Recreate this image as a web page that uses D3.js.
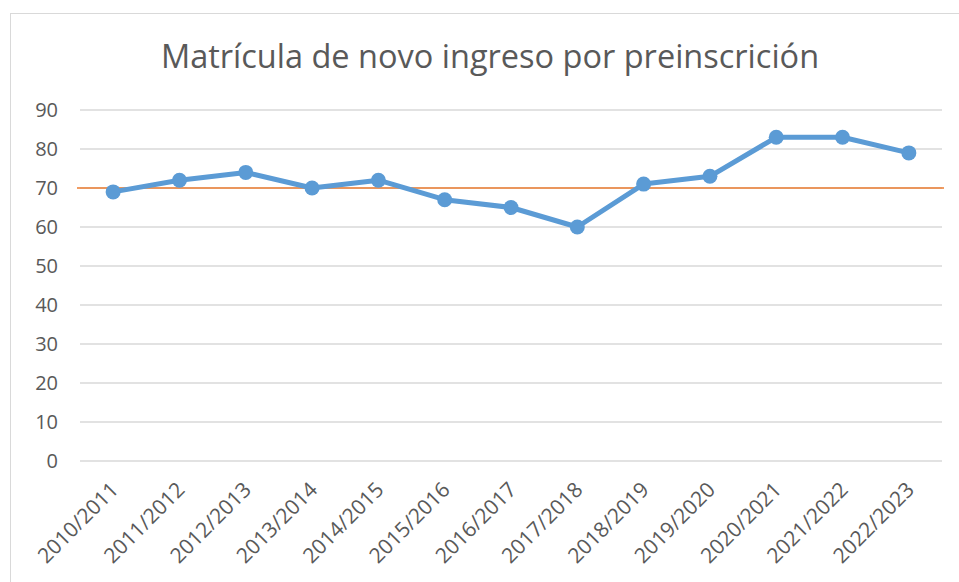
<!DOCTYPE html>
<html>
<head>
  <meta charset="utf-8">
  <title>Matrícula de novo ingreso</title>
  <script src="https://d3js.org/d3.v7.min.js"></script>
  <style>
    body { margin: 0; background: white; }
    text { font-family: "Open Sans", sans-serif; fill: #595959; }
  </style>
</head>
<body>
<script>
  // Data
  var cursos = ["2010/2011", "2011/2012", "2012/2013", "2013/2014", "2014/2015", "2015/2016",
                "2016/2017", "2017/2018", "2018/2019", "2019/2020", "2020/2021", "2021/2022", "2022/2023"];
  var matricula = [69, 72, 74, 70, 72, 67, 65, 60, 71, 73, 83, 83, 79];
  var referencia = 70;
  var yTicks = [0, 10, 20, 30, 40, 50, 60, 70, 80, 90];

  var width = 959, height = 582;
  var plot = {left: 80, right: 942, top: 110, bottom: 461};

  var svg = d3.select("body").append("svg")
      .attr("width", width)
      .attr("height", height);

  // chart border (cropped at right/bottom)
  svg.append("rect")
      .attr("x", 10.5).attr("y", 13.5)
      .attr("width", 970).attr("height", 600)
      .attr("fill", "none")
      .attr("stroke", "#d9d9d9");

  svg.append("text")
      .attr("x", 490).attr("y", 68)
      .attr("text-anchor", "middle")
      .style("font-size", "32.5px")
      .text("Matrícula de novo ingreso por preinscrición");

  var x = d3.scalePoint().domain(cursos).range([plot.left, plot.right]).padding(0.5);
  var y = d3.scaleLinear().domain([0, 90]).range([plot.bottom, plot.top]);

  // grid
  svg.append("g").selectAll("line")
      .data(yTicks).enter().append("line")
      .attr("x1", plot.left).attr("x2", plot.right)
      .attr("y1", function(d) { return y(d); })
      .attr("y2", function(d) { return y(d); })
      .attr("stroke", "#d9d9d9")
      .attr("stroke-width", 1.5);

  // y axis labels
  var yAxis = svg.append("g")
      .attr("transform", "translate(" + (plot.left - 22) + ",0)")
      .call(d3.axisLeft(y).tickValues(yTicks).tickSize(0).tickPadding(0));
  yAxis.select(".domain").remove();
  yAxis.selectAll("text")
      .style("font-size", "20px")
      .attr("fill", "#595959");

  // x axis labels
  var xAxis = svg.append("g")
      .attr("transform", "translate(0," + plot.bottom + ")")
      .call(d3.axisBottom(x).tickSize(0));
  xAxis.select(".domain").remove();
  xAxis.selectAll("text")
      .style("font-size", "21px")
      .attr("fill", "#595959")
      .style("text-anchor", "end")
      .attr("dy", "0")
      .attr("transform", "translate(4,28) rotate(-45)");

  // reference line
  svg.append("line")
      .attr("x1", plot.left - 3).attr("x2", plot.right + 2)
      .attr("y1", y(referencia)).attr("y2", y(referencia))
      .attr("stroke", "#ED7D31")
      .attr("stroke-width", 1.5);

  // series
  var line = d3.line()
      .x(function(d, i) { return x(cursos[i]); })
      .y(function(d) { return y(d); });

  svg.append("path")
      .datum(matricula)
      .attr("d", line)
      .attr("fill", "none")
      .attr("stroke", "#5B9BD5")
      .attr("stroke-width", 5)
      .attr("stroke-linejoin", "round");

  svg.append("g").selectAll("circle")
      .data(matricula).enter().append("circle")
      .attr("cx", function(d, i) { return x(cursos[i]); })
      .attr("cy", function(d) { return y(d); })
      .attr("r", 7.5)
      .attr("fill", "#5B9BD5");
</script>
</body>
</html>
